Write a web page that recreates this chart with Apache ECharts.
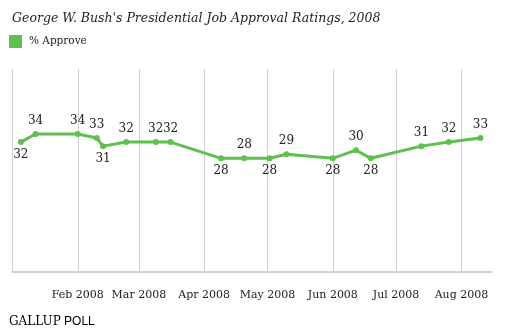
<!DOCTYPE html>
<html>
<head>
<meta charset="utf-8">
<script src="https://cdn.jsdelivr.net/npm/echarts@6/dist/echarts.min.js"></script>
<style>
  html, body { margin: 0; padding: 0; background: #fff; }
  #chart { width: 509px; height: 333px; }
</style>
</head>
<body>
<div id="chart"></div>
<script>
// Poll field dates (end of each survey) and approval percentages
var pollDates = [
  '2008-01-05', '2008-01-12', '2008-02-01', '2008-02-10', '2008-02-13',
  '2008-02-24', '2008-03-09', '2008-03-16', '2008-04-09', '2008-04-20',
  '2008-05-02', '2008-05-10', '2008-06-01', '2008-06-12', '2008-06-19',
  '2008-07-13', '2008-07-26', '2008-08-10'
];
var approve = [32, 34, 34, 33, 31, 32, 32, 32, 28, 28, 28, 29, 28, 30, 28, 31, 32, 33];
// Which side of the point each value label sits on
var labelSide = [
  'bottom', 'top', 'top', 'top', 'bottom', 'top', 'top', 'top', 'bottom', 'top',
  'bottom', 'top', 'bottom', 'top', 'bottom', 'top', 'top', 'top'
];
var monthNames = ['Jan', 'Feb', 'Mar', 'Apr', 'May', 'Jun', 'Jul', 'Aug', 'Sep', 'Oct', 'Nov', 'Dec'];

var GREEN = '#5fbf4f';
var SERIF = 'Georgia, "DejaVu Serif", serif';

var seriesData = pollDates.map(function (d, i) {
  return {
    value: [d, approve[i]],
    label: { position: labelSide[i], distance: labelSide[i] === 'top' ? 4 : 4 }
  };
});

var chart = echarts.init(document.getElementById('chart'), null, { renderer: 'canvas' });
chart.setOption({
  animation: false,
  backgroundColor: '#fff',
  title: {
    text: "George W. Bush's Presidential Job Approval Ratings, 2008",
    left: 7,
    top: 7,
    textStyle: {
      fontFamily: SERIF,
      fontStyle: 'italic',
      fontWeight: 'normal',
      fontSize: 12.5,
      color: '#1e1e1e'
    }
  },
  legend: {
    left: 9,
    top: 35,
    icon: 'rect',
    itemWidth: 13,
    itemHeight: 13,
    itemGap: 6,
    padding: 0,
    textStyle: { fontFamily: SERIF, fontSize: 10.5, color: '#222', padding: [0, 0, 0, 2] },
    data: [{ name: '% Approve', itemStyle: { color: GREEN } }]
  },
  grid: { left: 12.4, right: 17, top: 69, bottom: 61 },
  xAxis: {
    type: 'time',
    min: new Date(2008, 0, 1).getTime(),
    max: new Date(2008, 7, 15, 12).getTime(),
    minInterval: 28 * 86400000,
    maxInterval: 31 * 86400000,
    axisLine: { show: true, lineStyle: { color: '#d4d4d4', width: 2 } },
    axisTick: { show: false },
    splitLine: { show: true, showMinLine: false, showMaxLine: false, lineStyle: { color: '#d0d0d0', width: 1 } },
    axisLabel: {
      showMinLabel: false,
      showMaxLabel: false,
      hideOverlap: false,
      margin: 18,
      fontFamily: SERIF,
      fontSize: 11,
      color: '#222',
      formatter: function (val) {
        var d = new Date(val);
        if (d.getDate() !== 1 || d.getMonth() === 0) return '';
        return monthNames[d.getMonth()] + ' ' + d.getFullYear();
      }
    }
  },
  yAxis: {
    type: 'value',
    min: 0,
    max: 50,
    show: false,
    splitLine: { show: false }
  },
  graphic: [{
    type: 'text',
    left: 9,
    top: 316,
    style: {
      text: '{g|GALLUP} {p|POLL}',
      rich: {
        g: { fontFamily: SERIF, fontSize: 12, color: '#9a9a9a' },
        p: { fontFamily: 'Arial, "Liberation Sans", sans-serif', fontSize: 12, color: '#bdbdbd' }
      }
    }
  }],
  series: [{
    name: '% Approve',
    type: 'line',
    data: seriesData,
    symbol: 'circle',
    symbolSize: 6,
    itemStyle: { color: GREEN },
    lineStyle: { color: GREEN, width: 3 },
    label: {
      show: true,
      fontFamily: SERIF,
      fontSize: 12,
      color: '#222',
      formatter: function (p) { return p.value[1]; }
    }
  }]
});
</script>
</body>
</html>
